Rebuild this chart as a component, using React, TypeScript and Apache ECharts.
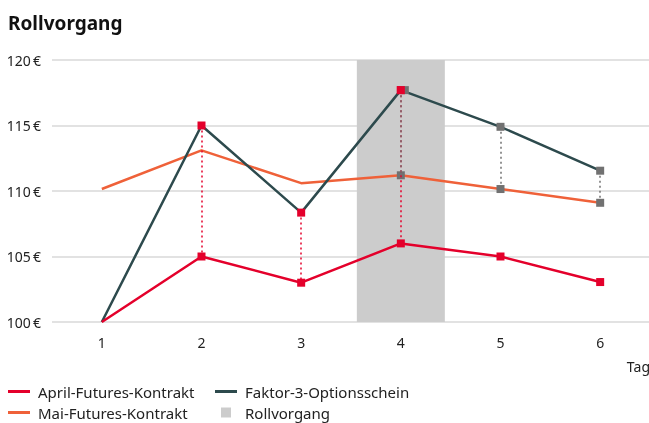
import React, { useEffect, useRef } from "react";
import * as echarts from "echarts";

const days = ["1", "2", "3", "4", "5", "6"];
const april = [100, 105, 103, 106, 105, 103.05];
const mai = [110.15, 113.1, 110.6, 111.2, 110.15, 109.1];
const faktor = [100, 115, 108.35, 117.7, 114.9, 111.55];
const rollDay = "4";
const rollTop = 120;
const yTicks = [100, 105, 110, 115, 120];
const redDropIdx = [1, 2, 3];
const greyDropIdx = [3, 4, 5];

const RED = "#e4002b";
const ORANGE = "#ef6139";
const DARK = "#2d4a4d";
const GREY = "#717171";
const BAND = "#cccccc";
const FONT = "'Noto Sans', sans-serif";

const lineIcon = "path://M0,0h22v3h-22z";
const squareIcon = "path://M0,0h10v10h-10z";

export default function App() {
  const ref = useRef<HTMLDivElement>(null);
  useEffect(() => {
    if (!ref.current) return;
    const chart = echarts.init(ref.current, undefined, { renderer: "svg" });
    const sq = (color: string | null, offset = 0) =>
      color
        ? { symbol: "rect", symbolSize: 8, symbolOffset: [offset, 0], itemStyle: { color } }
        : { symbol: "none" };

    const aprilMarks: (string | null)[] = [null, RED, RED, RED, RED, RED];
    const maiMarks: (string | null)[] = [null, null, null, GREY, GREY, GREY];
    const faktorMarks: (string | null)[] = [null, RED, RED, RED, GREY, GREY];

    const dropLine = (idx: number[], top: number[], bottom: number[], color: string) =>
      idx.map((i) => [
        { coord: [i, top[i]], lineStyle: { color } },
        { coord: [i, bottom[i]] },
      ]);

    const legendText = {
      fontSize: 15,
      color: "#222",
      fontFamily: FONT,
      lineHeight: 15,
      padding: [0, 0, 0, 3],
    };

    chart.setOption({
      animation: false,
      textStyle: { fontFamily: FONT },
      title: {
        text: "Rollvorgang",
        left: 3,
        top: 8,
        textStyle: { fontSize: 19, fontWeight: "bold", color: "#111", fontFamily: FONT },
      },
      grid: { left: 52, width: 598, top: 60, height: 262, outerBoundsMode: "none", containLabel: false },
      legend: [
        {
          orient: "vertical",
          left: 3,
          bottom: -2,
          itemWidth: 22,
          itemHeight: 10,
          itemGap: 6,
          textStyle: legendText,
          data: [
            { name: "April-Futures-Kontrakt", icon: lineIcon },
            { name: "Mai-Futures-Kontrakt", icon: lineIcon },
          ],
        },
        {
          orient: "vertical",
          left: 210,
          bottom: -2,
          itemWidth: 22,
          itemHeight: 10,
          itemGap: 6,
          textStyle: legendText,
          data: [
            { name: "Faktor-3-Optionsschein", icon: lineIcon },
            { name: "Rollvorgang", icon: squareIcon },
          ],
        },
      ],
      xAxis: {
        type: "category",
        data: days,
        boundaryGap: true,
        axisLine: { show: false },
        axisTick: { show: false },
        axisLabel: { fontSize: 14, color: "#222", margin: 13, fontFamily: FONT },
        name: "Tag",
        nameLocation: "end",
        nameGap: 0,
        nameTextStyle: {
          fontSize: 14,
          color: "#222",
          align: "right",
          verticalAlign: "top",
          padding: [37, 0, 0, 0],
          fontFamily: FONT,
        },
      },
      yAxis: {
        type: "value",
        min: yTicks[0],
        max: yTicks[yTicks.length - 1],
        interval: 5,
        axisLine: { show: false },
        axisTick: { show: false },
        axisLabel: {
          fontSize: 14,
          color: "#222",
          margin: 11,
          formatter: (v: number) => `${v}\u202F€`,
          fontFamily: FONT,
        },
        splitLine: { lineStyle: { color: "#d9d9d9", width: 1.5 } },
      },
      series: [
        {
          name: "_base",
          type: "bar",
          stack: "roll",
          z: 1,
          barWidth: 88,
          silent: true,
          itemStyle: { color: "transparent" },
          data: days.map((d) => (d === rollDay ? yTicks[0] : null)),
        },
        {
          name: "Rollvorgang",
          type: "bar",
          stack: "roll",
          z: 1,
          barWidth: 88,
          silent: true,
          itemStyle: { color: BAND },
          data: days.map((d) => (d === rollDay ? rollTop - yTicks[0] : null)),
        },
        {
          name: "_drops",
          type: "line",
          z: 2,
          data: [],
          silent: true,
          markLine: {
            silent: true,
            symbol: "none",
            label: { show: false },
            lineStyle: { type: [2, 3], width: 1.5 },
            data: [
              ...dropLine(redDropIdx, faktor, april, RED),
              ...dropLine(greyDropIdx, faktor, mai, GREY),
            ],
          },
        },
        {
          name: "Mai-Futures-Kontrakt",
          type: "line",
          z: 3,
          color: ORANGE,
          lineStyle: { width: 2.5, color: ORANGE },
          data: mai.map((v, i) => ({ value: v, ...sq(maiMarks[i]) })),
        },
        {
          name: "Faktor-3-Optionsschein",
          type: "line",
          z: 4,
          color: DARK,
          lineStyle: { width: 2.5, color: DARK },
          data: faktor.map((v, i) => ({ value: v, ...sq(faktorMarks[i]) })),
        },
        {
          name: "_faktorGrey",
          type: "line",
          z: 4,
          lineStyle: { width: 0 },
          data: faktor.map((v, i) =>
            i === 3 ? { value: v, ...sq(GREY, 4) } : { value: null, symbol: "none" }
          ),
        },
        {
          name: "_faktorRed",
          type: "line",
          z: 5,
          lineStyle: { width: 0 },
          data: faktor.map((v, i) =>
            i === 3 ? { value: v, ...sq(RED, 0) } : { value: null, symbol: "none" }
          ),
        },
        {
          name: "April-Futures-Kontrakt",
          type: "line",
          z: 5,
          color: RED,
          lineStyle: { width: 2.5, color: RED },
          data: april.map((v, i) => ({ value: v, ...sq(aprilMarks[i]) })),
        },
      ],
    });
    return () => chart.dispose();
  }, []);
  return (
    <div
      ref={ref}
      style={{ position: "fixed", left: 0, top: 0, width: 649, height: 423 }}
    />
  );
}
